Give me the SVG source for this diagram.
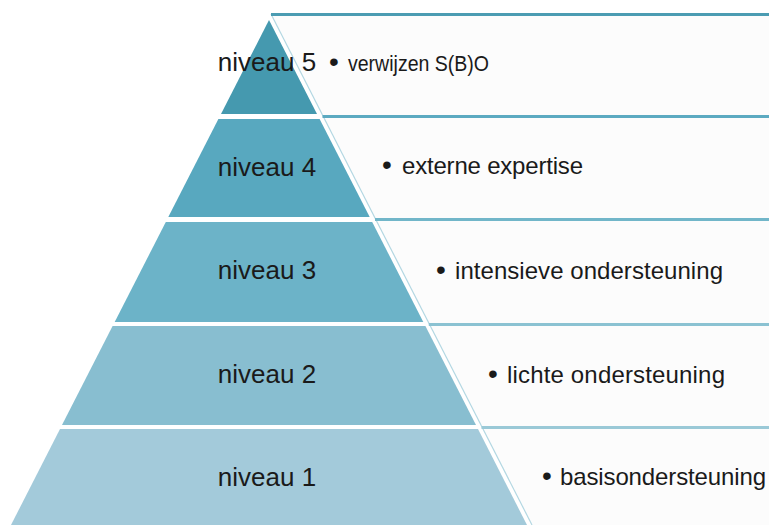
<svg xmlns="http://www.w3.org/2000/svg" width="769" height="525" viewBox="0 0 769 525">
<style>
.lbl{font-family:"Liberation Sans",Arial,sans-serif;font-size:26px;fill:#1a1a1a;text-anchor:middle}
.txt{font-family:"Liberation Sans",Arial,sans-serif;font-size:24px;fill:#1a1a1a}
.bul{font-size:28px}
.panel{fill:#fcfcfc;stroke:none}
.edge{stroke:#b3d7e2;stroke-width:1.2;fill:none}
.band{stroke-width:3;fill:none}
</style>
<rect width="769" height="525" fill="#ffffff"/>
<g id="level5">
<polygon class="panel" points="271,14 769,14 769,115 322.5,115"/>
<line class="edge" x1="271" y1="14" x2="322.5" y2="115"/>
<line class="band" x1="271" y1="14.5" x2="769" y2="14.5" stroke="#4b9cb2"/>
<polygon points="269,20 317,114 221,114" fill="#4599af"/>
<text class="lbl" x="267" y="71">niveau 5</text>
<text class="txt" y="71" style="font-size:22px"><tspan class="bul" x="329">•</tspan><tspan x="348" textLength="141" lengthAdjust="spacingAndGlyphs">verwijzen S(B)O</tspan></text>
</g>
<g id="level4">
<polygon class="panel" points="322.5,115 769,115 769,218 375,218"/>
<line class="edge" x1="322.5" y1="115" x2="375" y2="218"/>
<line class="band" x1="322.5" y1="116.5" x2="769" y2="116.5" stroke="#5caac1"/>
<polygon points="218.4,119 319.6,119 369.7,217 168.3,217" fill="#58a8bf"/>
<text class="lbl" x="267" y="176">niveau 4</text>
<text class="txt" y="174"><tspan class="bul" x="382">•</tspan><tspan x="402" textLength="181">externe expertise</tspan></text>
</g>
<g id="level3">
<polygon class="panel" points="375,218 769,218 769,323 428.8,323"/>
<line class="edge" x1="375" y1="218" x2="428.8" y2="323"/>
<line class="band" x1="375" y1="219.5" x2="769" y2="219.5" stroke="#71b6c9"/>
<polygon points="165.8,222 372.2,222 423.3,322 114.7,322" fill="#6cb3c8"/>
<text class="lbl" x="267" y="279">niveau 3</text>
<text class="txt" y="279"><tspan class="bul" x="436">•</tspan><tspan x="455" textLength="268">intensieve ondersteuning</tspan></text>
</g>
<g id="level2">
<polygon class="panel" points="428.8,323 769,323 769,426 481.5,426"/>
<line class="edge" x1="428.8" y1="323" x2="481.5" y2="426"/>
<line class="band" x1="428.8" y1="324.5" x2="769" y2="324.5" stroke="#8bc2d2"/>
<polygon points="112.6,326 425.4,326 476,425 62,425" fill="#88bed0"/>
<text class="lbl" x="267" y="383">niveau 2</text>
<text class="txt" y="383"><tspan class="bul" x="488">•</tspan><tspan x="507" textLength="218">lichte ondersteuning</tspan></text>
</g>
<g id="level1">
<polygon class="panel" points="481.5,426 769,426 769,525 532,525"/>
<line class="edge" x1="481.5" y1="426" x2="532" y2="525"/>
<line class="band" x1="481.5" y1="427.5" x2="769" y2="427.5" stroke="#9ac9d7"/>
<polygon points="60,429 478,429 527,525 11,525" fill="#a3cada"/>
<text class="lbl" x="267" y="486">niveau 1</text>
<text class="txt" y="485"><tspan class="bul" x="542">•</tspan><tspan x="560" textLength="206">basisondersteuning</tspan></text>
</g>
<g id="connectors"></g>
</svg>
